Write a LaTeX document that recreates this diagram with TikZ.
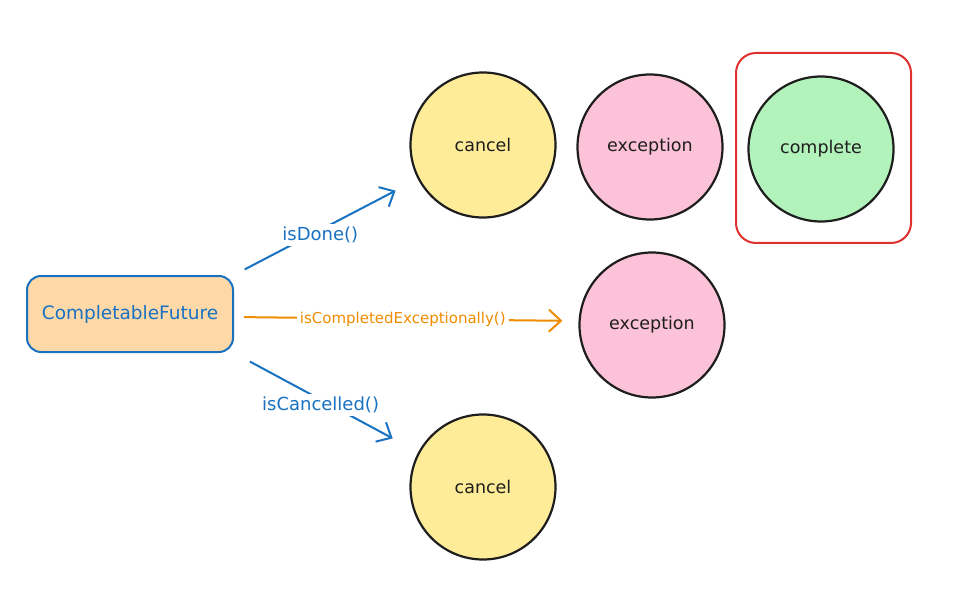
\documentclass[tikz,border=0pt]{standalone}
\usepackage{fontspec}
\setmainfont{DejaVu Sans}
\usetikzlibrary{arrows.meta}

\definecolor{penblack}{HTML}{1E1E1E}
\definecolor{penblue}{HTML}{1971C2}
\definecolor{penorange}{HTML}{F08C00}
\definecolor{penred}{HTML}{E03131}
\definecolor{fillorange}{HTML}{FFD8A8}
\definecolor{fillyellow}{HTML}{FFEC99}
\definecolor{fillpink}{HTML}{FCC2D7}
\definecolor{fillgreen}{HTML}{B2F2BB}

\begin{document}
\begin{tikzpicture}[
    x=1pt,
    y=-1pt,
    state/.style={
        circle,
        draw=penblack,
        line width=2.2pt,
        minimum size=145pt,
        inner sep=0pt,
        text=penblack,
        font=\fontsize{17.5}{21}\selectfont
    },
    future/.style={
        draw=penblue,
        fill=fillorange,
        line width=2pt,
        rounded corners=14pt,
        minimum width=206pt,
        minimum height=76pt,
        text=penblue,
        font=\fontsize{18.5}{22}\selectfont
    },
    link/.style={
        line width=2pt,
        -{Straight Barb[length=12pt,width=22pt]}
    },
    linklabel/.style={
        fill=white,
        inner sep=3pt,
        font=\fontsize{18}{21}\selectfont
    }
]

% Page frame
\useasboundingbox (0,0) rectangle (955,612);

% Source box
\node[future] (fut) at (130,314) {CompletableFuture};

% States
\node[state, fill=fillyellow] (cancelTop) at (483,145) {cancel};
\node[state, fill=fillpink] (excTop) at (650,147) {exception};
\node[state, fill=fillgreen] (compTop) at (821,149) {complete};
\node[state, fill=fillpink] (excMid) at (652,325) {exception};
\node[state, fill=fillyellow] (cancelBot) at (483,487) {cancel};

% Highlight round the completed state
\draw[
    draw=penred,
    line width=2pt,
    rounded corners=20pt
] (736,53) rectangle (911,243);

% Queries
\draw[link, draw=penblue, shorten <=12pt, shorten >=25pt]
    (fut.north east) -- node[linklabel, text=penblue, pos=0.47, yshift=-5pt] {isDone()} (cancelTop);

\draw[link, draw=penorange, shorten <=10pt, shorten >=16pt]
    ([yshift=-3pt]fut.east) -- node[linklabel, text=penorange, pos=0.49,
        font=\fontsize{15}{18}\selectfont] {isCompletedExceptionally()} ([yshift=4pt]excMid.west);

\draw[link, draw=penblue, shorten <=18pt, shorten >=29pt]
    (fut.south east) -- node[linklabel, text=penblue, pos=0.47, yshift=-5pt] {isCancelled()} (cancelBot);

\end{tikzpicture}
\end{document}
